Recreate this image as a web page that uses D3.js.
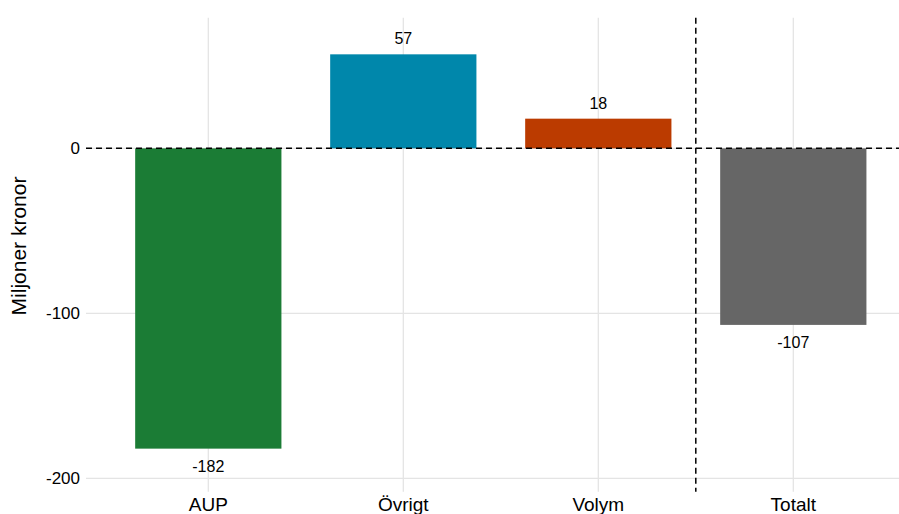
<!DOCTYPE html>
<html>
<head>
<meta charset="utf-8">
<script src="https://cdn.jsdelivr.net/npm/d3@7"></script>
<style>
  html, body { margin: 0; padding: 0; background: #fff; }
  text { font-family: "Liberation Sans", Arial, Helvetica, sans-serif; fill: #000; }
</style>
</head>
<body>
<svg id="chart" width="899" height="514"></svg>
<script>
// Bridge of cost changes (million SEK)
const categories = ["AUP", "Övrigt", "Volym", "Totalt"];
const values = [-182, 57, 18, -107];
const barColors = ["#1b7c35", "#0087ab", "#bb3b00", "#666666"];
const yTicks = [0, -100, -200];

const svg = d3.select("#chart");
const panel = { left: 86, right: 899, top: 17.7, bottom: 491.7 };

const y = d3.scaleLinear().domain([-208.1, 79.2]).range([panel.bottom, panel.top]);
const x = d3.scaleBand()
  .domain(categories)
  .range([110.8, 890.8])
  .paddingInner(0.25)
  .paddingOuter(0.125);
const cx = d => x(d) + x.bandwidth() / 2;

const grid = "#e4e4e4";

// horizontal grid lines
svg.append("g").selectAll("line").data(yTicks).join("line")
  .attr("x1", panel.left).attr("x2", panel.right)
  .attr("y1", d => y(d)).attr("y2", d => y(d))
  .attr("stroke", grid).attr("stroke-width", 1.3);

// vertical grid lines at category centres
svg.append("g").selectAll("line").data(categories).join("line")
  .attr("x1", d => cx(d)).attr("x2", d => cx(d))
  .attr("y1", panel.top).attr("y2", panel.bottom)
  .attr("stroke", grid).attr("stroke-width", 1.3);

// bars
svg.append("g").selectAll("rect").data(categories).join("rect")
  .attr("x", d => x(d))
  .attr("width", x.bandwidth())
  .attr("y", (d, i) => y(Math.max(0, values[i])))
  .attr("height", (d, i) => Math.abs(y(values[i]) - y(0)))
  .attr("fill", (d, i) => barColors[i]);

// value labels
svg.append("g").selectAll("text").data(categories).join("text")
  .attr("x", d => cx(d))
  .attr("y", (d, i) => values[i] >= 0 ? y(values[i]) - 10 : y(values[i]) + 23)
  .attr("text-anchor", "middle")
  .attr("font-size", 16)
  .text((d, i) => values[i]);

// zero reference line
svg.append("line")
  .attr("x1", panel.left).attr("x2", panel.right)
  .attr("y1", y(0)).attr("y2", y(0))
  .attr("stroke", "#000").attr("stroke-width", 1.5)
  .attr("stroke-dasharray", "6,4");

// separator before the total
const sepX = (cx("Volym") + cx("Totalt")) / 2;
svg.append("line")
  .attr("x1", sepX).attr("x2", sepX)
  .attr("y1", panel.top).attr("y2", panel.bottom)
  .attr("stroke", "#000").attr("stroke-width", 1.5)
  .attr("stroke-dasharray", "6,4");

// y axis tick labels
svg.append("g").selectAll("text").data(yTicks).join("text")
  .attr("x", 80)
  .attr("y", d => y(d) + 6)
  .attr("text-anchor", "end")
  .attr("font-size", 17)
  .text(d => d);

// x axis labels
svg.append("g").selectAll("text").data(categories).join("text")
  .attr("x", d => cx(d))
  .attr("y", 511)
  .attr("text-anchor", "middle")
  .attr("font-size", 19)
  .text(d => d);

// y axis title
svg.append("text")
  .attr("transform", "translate(26,246) rotate(-90)")
  .attr("text-anchor", "middle")
  .attr("font-size", 21)
  .text("Miljoner kronor");
</script>
</body>
</html>
